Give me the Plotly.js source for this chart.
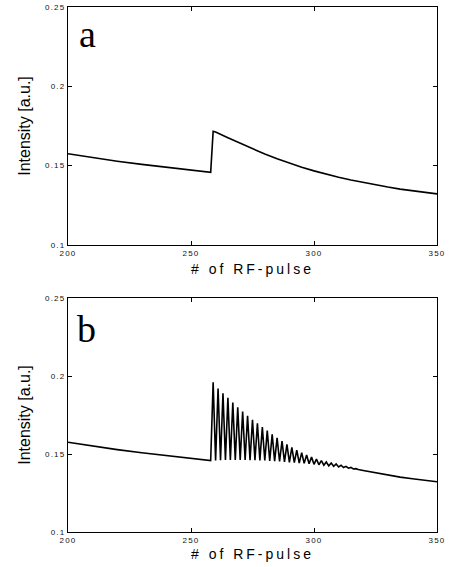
<!DOCTYPE html>
<html>
<head>
<meta charset="utf-8">
<script src="https://cdn.plot.ly/plotly-3.0.1.min.js"></script>
<style>
html,body{margin:0;padding:0;background:#fff;}
#chart{width:453px;height:567px;}
</style>
</head>
<body>
<div id="chart"></div>
<script>
// ---- data ----
var xTicks = [200, 250, 300, 350];
var yTicks = [0.1, 0.15, 0.2, 0.25];
var panelLabels = ["a", "b"];
var xTitle = "# of RF-pulse";
var yTitle = "Intensity [a.u.]";

// panel a: single jump then smooth decay
var pulseA = [200,210,220,230,240,250,258,259,260,265,270,275,280,285,290,295,300,305,310,315,320,325,330,335,340,345,350];
var intensityA = [0.1575,0.1550,0.1528,0.1508,0.1490,0.1472,0.1458,0.1716,0.1712,0.1676,0.1641,0.1606,0.1573,0.1543,0.1515,0.1490,0.1467,0.1446,0.1427,0.1410,0.1394,0.1379,0.1365,0.1352,0.1341,0.1331,0.1322];

// panel b: alternating (pulse-to-pulse) oscillation after the jump
var pulseB = [200,210,220,230,240,250,258,
  259,260,261,262,263,264,265,266,267,268,269,270,271,272,273,274,275,276,277,278,279,280,
  281,282,283,284,285,286,287,288,289,290,291,292,293,294,295,296,297,298,299,300,
  301,302,303,304,305,306,307,308,309,310,311,312,313,314,315,316,317,318,
  320,325,330,335,340,345,350];
var intensityB = [0.1575,0.1550,0.1528,0.1508,0.1490,0.1472,0.1458,
  0.1960,0.1458,0.1920,0.1460,0.1890,0.1461,0.1860,0.1462,0.1830,0.1462,0.1800,0.1462,0.1772,0.1462,0.1745,0.1461,0.1720,0.1460,0.1697,0.1459,0.1672,0.1458,
  0.1650,0.1456,0.1626,0.1454,0.1604,0.1452,0.1582,0.1450,0.1562,0.1447,0.1542,0.1445,0.1525,0.1442,0.1509,0.1440,0.1494,0.1437,0.1480,0.1434,
  0.1467,0.1431,0.1457,0.1428,0.1449,0.1424,0.1442,0.1421,0.1436,0.1417,0.1428,0.1413,0.1421,0.1409,0.1414,0.1404,0.1406,0.1400,
  0.1394,0.1379,0.1365,0.1352,0.1341,0.1331,0.1322];

// ---- helpers ----
function spaced(s, px){ return '<span style="letter-spacing:' + px + 'px">' + s + '</span>'; }
var xTickText = xTicks.map(function(v){ return spaced(String(v), 1.2); });
var yTickText = yTicks.map(function(v){ return spaced(String(v), 1.2); });

var lineStyle = {color: '#000', width: 1.6, shape: 'linear'};

var traces = [
  {x: pulseA, y: intensityA, type: 'scatter', mode: 'lines', line: lineStyle, xaxis: 'x', yaxis: 'y', hoverinfo: 'skip'},
  {x: pulseB, y: intensityB, type: 'scatter', mode: 'lines', line: lineStyle, xaxis: 'x2', yaxis: 'y2', hoverinfo: 'skip'}
];

var tickFont = {family: 'Liberation Sans, Arial, sans-serif', size: 8, color: '#111'};

function xAxis(anchor, standoff){
  return {
    anchor: anchor, domain: [0, 1], range: [200, 350],
    tickmode: 'array', tickvals: xTicks, ticktext: xTickText,
    ticks: 'inside', ticklen: 4, tickwidth: 1, tickcolor: '#000',
    showline: true, linecolor: '#000', linewidth: 1, mirror: 'ticks',
    showgrid: false, zeroline: false, tickfont: tickFont,
    title: {text: spaced(xTitle, 3), font: {family: 'Liberation Sans, Arial, sans-serif', size: 14, color: '#000'}, standoff: standoff},
    automargin: false
  };
}
function yAxis(domain, anchor){
  return {
    anchor: anchor, domain: domain, range: [0.1, 0.25],
    tickmode: 'array', tickvals: yTicks, ticktext: yTickText,
    ticks: 'inside', ticklen: 4, tickwidth: 1, tickcolor: '#000',
    showline: true, linecolor: '#000', linewidth: 1, mirror: 'ticks',
    showgrid: false, zeroline: false, tickfont: tickFont,
    title: {text: yTitle, font: {family: 'Liberation Sans, Arial, sans-serif', size: 16, color: '#000'}, standoff: 10},
    automargin: false
  };
}

var layout = {
  width: 453, height: 567,
  margin: {l: 68, r: 16, t: 7, b: 35, pad: 0},
  paper_bgcolor: '#fff', plot_bgcolor: '#fff',
  showlegend: false,
  xaxis: xAxis('y', 7),
  yaxis: yAxis([0.5467, 1], 'x'),
  xaxis2: xAxis('y2', 5),
  yaxis2: yAxis([0, 0.4457], 'x2'),
  annotations: [
    {text: panelLabels[0], xref: 'x domain', yref: 'y domain', x: 0.025, y: 0.885, xanchor: 'left', yanchor: 'middle', showarrow: false,
     font: {family: 'Liberation Serif, Times New Roman, serif', size: 38, color: '#000'}},
    {text: panelLabels[1], xref: 'x2 domain', yref: 'y2 domain', x: 0.02, y: 0.868, xanchor: 'left', yanchor: 'middle', showarrow: false,
     font: {family: 'Liberation Serif, Times New Roman, serif', size: 38, color: '#000'}}
  ]
};

Plotly.newPlot('chart', traces, layout, {staticPlot: true, displayModeBar: false});
</script>
</body>
</html>
